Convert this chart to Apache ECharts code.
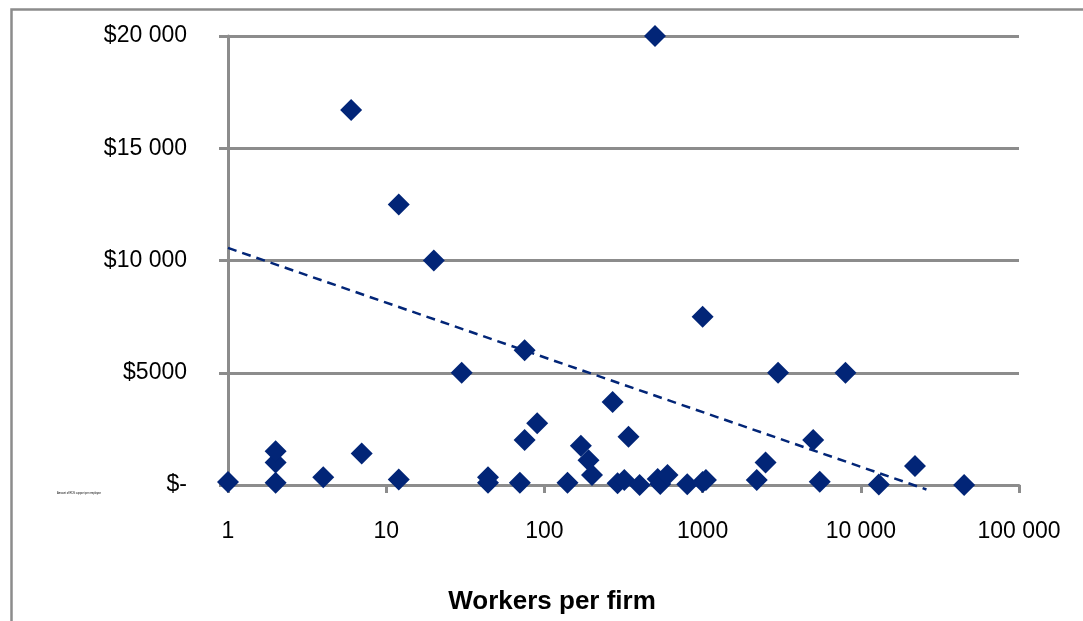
<!DOCTYPE html>
<html>
<head>
<meta charset="utf-8">
<script src="https://cdn.jsdelivr.net/npm/echarts@6/dist/echarts.min.js"></script>
<style>
  html, body { margin: 0; padding: 0; background: #fff; }
  #chart { width: 1083px; height: 621px; }
</style>
</head>
<body>
<div id="chart"></div>
<script>
// workers per firm (x) and support per worker (y)
const workers = [1, 2, 2, 2, 4, 6, 7, 12, 12, 20, 30, 44, 44, 70, 75, 75, 90, 140, 170, 190, 200,
  270, 290, 320, 340, 400, 500, 520, 540, 600, 800, 1000, 1050, 1000, 2200, 2500, 3000, 5000,
  5500, 8000, 13000, 22000, 45000];
const support = [130, 100, 1000, 1500, 350, 16700, 1400, 12500, 250, 10000, 5000, 350, 100, 100,
  6000, 2000, 2750, 100, 1750, 1100, 450, 3700, 80, 220, 2150, 0, 20000, 270, 50, 450, 30, 130,
  220, 7500, 220, 1000, 5000, 2000, 150, 5000, 20, 850, 0];
// dashed trendline end points
const trendX = [1, 26000];
const trendY = [10560, -200];

const xLabels = { 1: '1', 10: '10', 100: '100', 1000: '1000', 10000: '10 000', 100000: '100 000' };
const yLabels = { 0: '$-', 5000: '$5000', 10000: '$10 000', 15000: '$15 000', 20000: '$20 000' };

const navy = '#022577';
const gray = '#8c8c8c';
const font = '"Liberation Sans", Arial, sans-serif';

const chart = echarts.init(document.getElementById('chart'));
chart.setOption({
  animation: false,
  backgroundColor: '#fff',
  title: {
    text: 'Workers per firm',
    left: 547, top: 584,
    textAlign: 'center',
    textStyle: { fontFamily: font, fontSize: 26, fontWeight: 'bold', color: '#000' }
  },
  grid: { left: 228, right: 64, top: 36, bottom: 136 },
  xAxis: {
    type: 'log',
    logBase: 10,
    min: 1,
    max: 100000,
    axisLine: { lineStyle: { color: gray, width: 3 } },
    axisTick: { length: 8, lineStyle: { color: gray, width: 3 } },
    axisLabel: {
      margin: 35, fontFamily: font, fontSize: 23, color: '#000',
      formatter: v => xLabels[Math.round(v)] || ''
    },
    splitLine: { show: false },
    minorTick: { show: false }
  },
  yAxis: {
    type: 'value',
    min: 0,
    max: 20000,
    interval: 5000,
    axisLine: { show: true, lineStyle: { color: gray, width: 3 } },
    axisTick: { show: true, length: 9, lineStyle: { color: gray, width: 3 } },
    axisLabel: {
      margin: 41, fontFamily: font, fontSize: 23, color: '#000',
      formatter: v => yLabels[v]
    },
    splitLine: { lineStyle: { color: gray, width: 3 } }
  },
  series: [
    {
      type: 'line',
      data: trendX.map((x, i) => [x, trendY[i]]),
      symbol: 'none',
      clip: false,
      z: 3,
      lineStyle: { color: navy, width: 2.5, type: [9, 6] }
    },
    {
      type: 'scatter',
      data: workers.map((x, i) => [x, support[i]]),
      symbol: 'diamond',
      symbolSize: 22,
      clip: false,
      z: 4,
      itemStyle: { color: navy, opacity: 1 }
    }
  ],
  graphic: [
    {
      type: 'rect',
      left: 9, top: 7,
      shape: { width: 1200, height: 800 },
      style: { fill: 'none', stroke: gray, lineWidth: 2.5 },
      silent: true
    },
    {
      type: 'text',
      left: 57, top: 492,
      style: { text: 'Amount of RDS support per employee', fontSize: 2.6, fill: '#000', fontFamily: font }
    }
  ]
});
</script>
</body>
</html>
